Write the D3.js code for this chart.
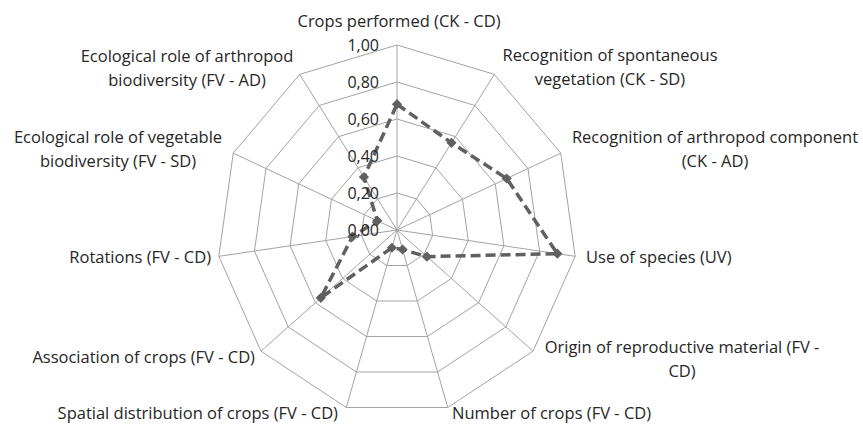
<!DOCTYPE html>
<html>
<head>
<meta charset="utf-8">
<script src="https://cdn.jsdelivr.net/npm/d3@7"></script>
<style>
  html, body { margin: 0; padding: 0; background: #fff; }
  svg { display: block; }
</style>
</head>
<body>
<div id="chart"></div>
<script>
// categories, clockwise from the top
const categories = [
  "Crops performed (CK - CD)",
  "Recognition of spontaneous|vegetation (CK - SD)",
  "Recognition of arthropod component|(CK - AD)",
  "Use of species (UV)",
  "Origin of reproductive material (FV -|CD)",
  "Number of crops (FV - CD)",
  "Spatial distribution of crops (FV - CD)",
  "Association of crops (FV - CD)",
  "Rotations (FV - CD)",
  "Ecological role of vegetable|biodiversity (FV - SD)",
  "Ecological role of arthropod|biodiversity (FV - AD)"
];
const values = [0.68, 0.56, 0.67, 0.90, 0.22, 0.11, 0.10, 0.56, 0.25, 0.12, 0.34];
const ticks = [0, 0.2, 0.4, 0.6, 0.8, 1.0];
const tickLabels = ["0,00", "0,20", "0,40", "0,60", "0,80", "1,00"];

const width = 863, height = 425;
const cx = 397, cy = 230;
const kx = 180 / 185; // plot area is a touch narrower than tall

const svg = d3.select("#chart").append("svg")
  .attr("width", width)
  .attr("height", height)
  .style("font-family", "'Open Sans', sans-serif");

const r = d3.scaleLinear().domain([0, 1]).range([0, 185]);
const angle = d3.scaleLinear().domain([0, categories.length]).range([0, 2 * Math.PI]);

const px = (i, v) => cx + r(v) * Math.sin(angle(i)) * kx;
const py = (i, v) => cy - r(v) * Math.cos(angle(i));

const idx = d3.range(categories.length);
const line = d3.line().curve(d3.curveLinearClosed);

// rings
svg.append("g")
  .selectAll("path")
  .data(ticks.slice(1))
  .join("path")
  .attr("d", t => line(idx.map(i => [px(i, t), py(i, t)])))
  .attr("fill", "none")
  .attr("stroke", "#a3a3a3")
  .attr("stroke-width", 1);

// spokes
svg.append("g")
  .selectAll("line")
  .data(idx)
  .join("line")
  .attr("x1", cx).attr("y1", cy)
  .attr("x2", i => px(i, 1)).attr("y2", i => py(i, 1))
  .attr("stroke", "#a3a3a3")
  .attr("stroke-width", 1);

// series
svg.append("path")
  .attr("d", line(values.map((v, i) => [px(i, v), py(i, v)])))
  .attr("fill", "none")
  .attr("stroke", "#606060")
  .attr("stroke-width", 3.5)
  .attr("stroke-dasharray", "10,5");

svg.append("g")
  .selectAll("path")
  .data(values)
  .join("path")
  .attr("d", d3.symbol(d3.symbolSquare, 52))
  .attr("transform", (v, i) => `translate(${px(i, v)},${py(i, v)}) rotate(45)`)
  .attr("fill", "#606060");

// value ticks on the vertical axis
svg.append("g")
  .selectAll("text")
  .data(ticks)
  .join("text")
  .attr("x", cx - 18)
  .attr("y", t => cy - r(t))
  .attr("dy", "0.35em")
  .attr("text-anchor", "end")
  .attr("font-size", 16)
  .attr("fill", "#262626")
  .text((t, i) => tickLabels[i]);

// category labels
const labelPos = [
  { x: 399, y: 21, a: "middle" },
  { x: 610, y: 55, a: "middle" },
  { x: 715, y: 137, a: "middle" },
  { x: 586, y: 257, a: "start" },
  { x: 682, y: 347, a: "middle" },
  { x: 452, y: 413, a: "start" },
  { x: 338, y: 413, a: "end" },
  { x: 255, y: 357, a: "end" },
  { x: 211, y: 257, a: "end" },
  { x: 118, y: 137, a: "middle" },
  { x: 187, y: 56, a: "middle" }
];

const lab = svg.append("g")
  .selectAll("text")
  .data(categories)
  .join("text")
  .attr("x", (c, i) => labelPos[i].x)
  .attr("y", (c, i) => labelPos[i].y)
  .attr("text-anchor", (c, i) => labelPos[i].a)
  .attr("font-size", 16.5)
  .attr("fill", "#262626");

lab.each(function(c, i) {
  const parts = c.split("|");
  d3.select(this).selectAll("tspan")
    .data(parts)
    .join("tspan")
    .attr("x", labelPos[i].x)
    .attr("dy", (p, j) => j === 0 ? "0.35em" : 24)
    .text(p => p);
});
</script>
</body>
</html>
